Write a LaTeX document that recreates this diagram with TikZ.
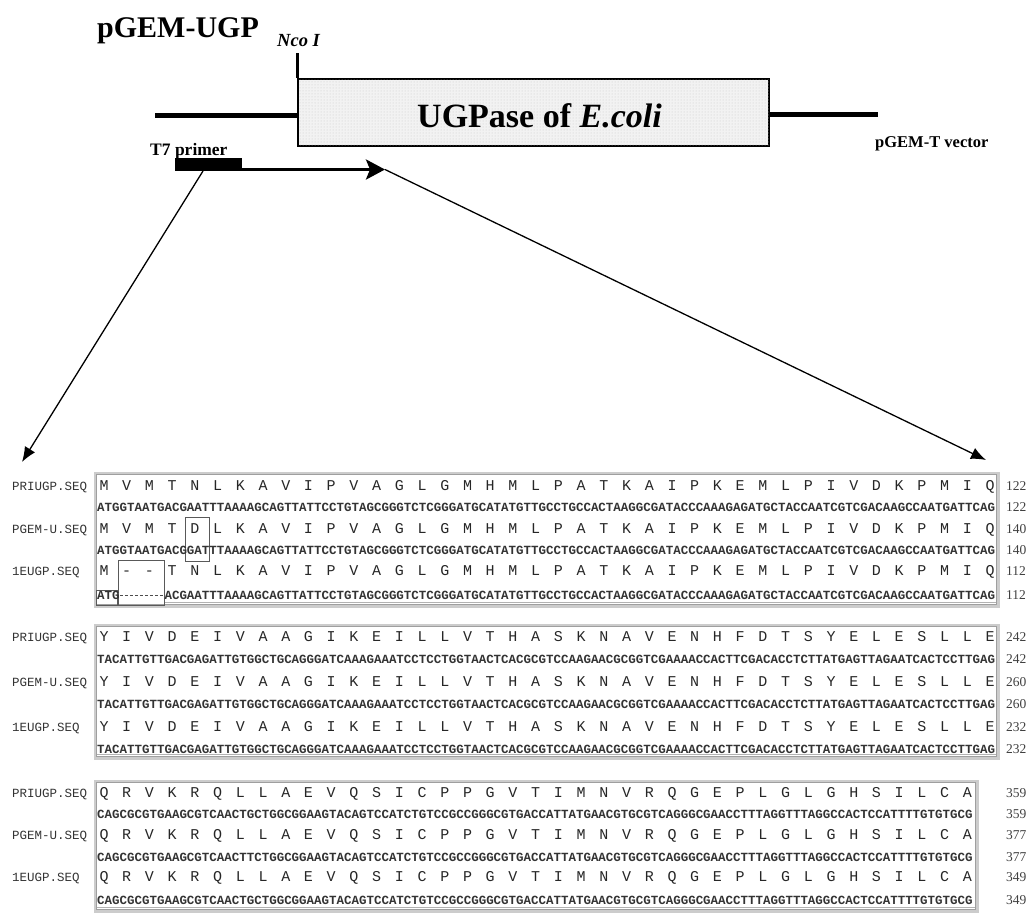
\documentclass[tikz,border=0pt]{standalone}
\usepackage{fontspec}
\setmainfont{Liberation Serif}
\newfontfamily\seqmono{Liberation Mono}
\usetikzlibrary{arrows.meta,patterns}
\newcommand\protrow[4]{%
  \foreach \c [count=\i from 0] in {#4} {\node[prot] (#1-\i) at ({#2+22.72*\i},#3) {\c};}}
\tikzset{
  prot/.style={font=\seqmono\fontsize{15}{15}\selectfont, text=black!85, inner sep=0pt, text height=9.9pt, text depth=0pt},
  dna/.style={font=\seqmono\bfseries\fontsize{12.47}{12.47}\selectfont, text=black!80, inner sep=0pt, anchor=west, text height=8.2pt, text depth=0pt},
  lab/.style={font=\seqmono\fontsize{12.5}{12.5}\selectfont, text=black!80, inner sep=0pt, anchor=west, text height=8.2pt, text depth=0pt},
  num/.style={font=\fontsize{13.5}{13.5}\selectfont, text=black!75, inner sep=0pt, anchor=west, text height=9pt, text depth=0pt},
  outerbox/.style={draw=gray!40, line width=3pt},
  innerbox/.style={draw=gray!75, line width=0.8pt},
  hibox/.style={draw=black!65, line width=1pt},
  uline/.style={draw=gray!60, line width=0.8pt},
  txt/.style={inner sep=0pt, anchor=base west},
  vec/.style={line width=5pt},
  diag/.style={line width=1.3pt, -{Latex[length=15pt,width=12pt]}},
}
\begin{document}
\begin{tikzpicture}[x=1pt,y=-1pt]
\useasboundingbox (0,0) rectangle (1032,922);
% ---------- construct ----------
\node[txt, font=\bfseries\fontsize{30}{30}\selectfont] (title) at (97,37) {pGEM-UGP};
\node[txt, font=\bfseries\itshape\fontsize{18.5}{18.5}\selectfont] (nco) at (277,46) {Nco I};
\node[draw, line width=2pt, fill=black!5, postaction={pattern=dots, pattern color=black!22},
      minimum width=471pt, minimum height=67pt, anchor=north west, inner sep=0pt] (ugp) at (297,78) {};
\node[txt, font=\bfseries\fontsize{34}{34}\selectfont] (ugptext) at (417,127) {UGPase of \textit{E.coli}};
\coordinate (ncotop) at (297,53);
\coordinate (vleft) at (155,115);
\coordinate (vright) at (878,114);
\draw[line width=3pt] (ncotop) -- (ugp.north west);
\draw[vec] (vleft) -- (ugp.west |- vleft);
\draw[vec] (ugp.east |- vright) -- (vright);
\node[txt, font=\bfseries\fontsize{16.5}{16.5}\selectfont] (vector) at (875,147) {pGEM-T vector};
\node[txt, font=\bfseries\fontsize{17.5}{17.5}\selectfont] (t7) at (150,155) {T7 primer};
\node[fill=black, minimum width=67pt, minimum height=13pt, inner sep=0pt, anchor=north west] (primer) at (175,158) {};
\coordinate (prend) at (242,169.5);
\coordinate (arrowtip) at (385,169.5);
\coordinate (prlow) at (203,171);
\coordinate (ltip) at (22,462);
\coordinate (rtip) at (986,460);
\draw[line width=3pt, -{Stealth[length=19pt,width=20pt,inset=4pt]}] (prend) -- (arrowtip);
\draw[diag] (prlow) -- (ltip);
\draw[diag] (arrowtip) -- (rtip);
% ---------- block 1 ----------
\draw[outerbox] (95,473) rectangle (998,606);
\draw[innerbox] (96.8,474.8) rectangle (996.2,604.2);
\draw[uline] (164,602) -- (996,602);
\draw[hibox] (185,517) rectangle (209,561);
\draw[hibox] (118,560) rectangle (164,605);
\draw[hibox] (96,590) rectangle (117,605);
\node[lab] (l11) at (12,486) {PRIUGP.SEQ};
\node[lab] (l12) at (12,529) {PGEM-U.SEQ};
\node[lab] (l13) at (12,571) {1EUGP.SEQ};
\protrow{p11}{104}{486}{M,V,M,T,N,L,K,A,V,I,P,V,A,G,L,G,M,H,M,L,P,A,T,K,A,I,P,K,E,M,L,P,I,V,D,K,P,M,I,Q}
\protrow{p12}{104}{529}{M,V,M,T,D,L,K,A,V,I,P,V,A,G,L,G,M,H,M,L,P,A,T,K,A,I,P,K,E,M,L,P,I,V,D,K,P,M,I,Q}
\protrow{p13}{104}{571}{M,-,-,T,N,L,K,A,V,I,P,V,A,G,L,G,M,H,M,L,P,A,T,K,A,I,P,K,E,M,L,P,I,V,D,K,P,M,I,Q}
\node[dna] (d11) at (97,507) {ATGGTAATGACGAATTTAAAAGCAGTTATTCCTGTAGCGGGTCTCGGGATGCATATGTTGCCTGCCACTAAGGCGATACCCAAAGAGATGCTACCAATCGTCGACAAGCCAATGATTCAG};
\node[dna] (d12) at (97,550) {ATGGTAATGACGGATTTAAAAGCAGTTATTCCTGTAGCGGGTCTCGGGATGCATATGTTGCCTGCCACTAAGGCGATACCCAAAGAGATGCTACCAATCGTCGACAAGCCAATGATTCAG};
\node[dna] (d13a) at (97,595) {ATG};
\node[dna] (d13b) at (164.35,595) {ACGAATTTAAAAGCAGTTATTCCTGTAGCGGGTCTCGGGATGCATATGTTGCCTGCCACTAAGGCGATACCCAAAGAGATGCTACCAATCGTCGACAAGCCAATGATTCAG};
\draw[black!70, line width=0.8pt, dash pattern=on 3pt off 2pt] (d13a.east) -- (d13b.west);
\node[num] (n11) at (1006,486) {122};
\node[num] (n12) at (1006,507) {122};
\node[num] (n13) at (1006,529) {140};
\node[num] (n14) at (1006,550) {140};
\node[num] (n15) at (1006,571) {112};
\node[num] (n16) at (1006,595) {112};
% ---------- block 2 ----------
\draw[outerbox] (95,625) rectangle (998,758);
\draw[innerbox] (96.8,626.8) rectangle (996.2,756.2);
\draw[uline] (97,754) -- (996,754);
\node[lab] (l21) at (12,637) {PRIUGP.SEQ};
\node[lab] (l22) at (12,682) {PGEM-U.SEQ};
\node[lab] (l23) at (12,727) {1EUGP.SEQ};
\protrow{p21}{104}{637}{Y,I,V,D,E,I,V,A,A,G,I,K,E,I,L,L,V,T,H,A,S,K,N,A,V,E,N,H,F,D,T,S,Y,E,L,E,S,L,L,E}
\protrow{p22}{104}{682}{Y,I,V,D,E,I,V,A,A,G,I,K,E,I,L,L,V,T,H,A,S,K,N,A,V,E,N,H,F,D,T,S,Y,E,L,E,S,L,L,E}
\protrow{p23}{104}{727}{Y,I,V,D,E,I,V,A,A,G,I,K,E,I,L,L,V,T,H,A,S,K,N,A,V,E,N,H,F,D,T,S,Y,E,L,E,S,L,L,E}
\node[dna] (d21) at (97,659) {TACATTGTTGACGAGATTGTGGCTGCAGGGATCAAAGAAATCCTCCTGGTAACTCACGCGTCCAAGAACGCGGTCGAAAACCACTTCGACACCTCTTATGAGTTAGAATCACTCCTTGAG};
\node[dna] (d22) at (97,704) {TACATTGTTGACGAGATTGTGGCTGCAGGGATCAAAGAAATCCTCCTGGTAACTCACGCGTCCAAGAACGCGGTCGAAAACCACTTCGACACCTCTTATGAGTTAGAATCACTCCTTGAG};
\node[dna] (d23) at (97,749) {TACATTGTTGACGAGATTGTGGCTGCAGGGATCAAAGAAATCCTCCTGGTAACTCACGCGTCCAAGAACGCGGTCGAAAACCACTTCGACACCTCTTATGAGTTAGAATCACTCCTTGAG};
\node[num] (n21) at (1006,637) {242};
\node[num] (n22) at (1006,659) {242};
\node[num] (n23) at (1006,682) {260};
\node[num] (n24) at (1006,704) {260};
\node[num] (n25) at (1006,727) {232};
\node[num] (n26) at (1006,749) {232};
% ---------- block 3 ----------
\draw[outerbox] (95,781) rectangle (977,911);
\draw[innerbox] (96.8,782.8) rectangle (975.2,909.2);
\draw[uline] (97,907) -- (975,907);
\node[lab] (l31) at (12,793) {PRIUGP.SEQ};
\node[lab] (l32) at (12,835) {PGEM-U.SEQ};
\node[lab] (l33) at (12,877) {1EUGP.SEQ};
\protrow{p31}{104}{793}{Q,R,V,K,R,Q,L,L,A,E,V,Q,S,I,C,P,P,G,V,T,I,M,N,V,R,Q,G,E,P,L,G,L,G,H,S,I,L,C,A}
\protrow{p32}{104}{835}{Q,R,V,K,R,Q,L,L,A,E,V,Q,S,I,C,P,P,G,V,T,I,M,N,V,R,Q,G,E,P,L,G,L,G,H,S,I,L,C,A}
\protrow{p33}{104}{877}{Q,R,V,K,R,Q,L,L,A,E,V,Q,S,I,C,P,P,G,V,T,I,M,N,V,R,Q,G,E,P,L,G,L,G,H,S,I,L,C,A}
\node[dna] (d31) at (97,814) {CAGCGCGTGAAGCGTCAACTGCTGGCGGAAGTACAGTCCATCTGTCCGCCGGGCGTGACCATTATGAACGTGCGTCAGGGCGAACCTTTAGGTTTAGGCCACTCCATTTTGTGTGCG};
\node[dna] (d32) at (97,857) {CAGCGCGTGAAGCGTCAACTTCTGGCGGAAGTACAGTCCATCTGTCCGCCGGGCGTGACCATTATGAACGTGCGTCAGGGCGAACCTTTAGGTTTAGGCCACTCCATTTTGTGTGCG};
\node[dna] (d33) at (97,900) {CAGCGCGTGAAGCGTCAACTGCTGGCGGAAGTACAGTCCATCTGTCCGCCGGGCGTGACCATTATGAACGTGCGTCAGGGCGAACCTTTAGGTTTAGGCCACTCCATTTTGTGTGCG};
\node[num] (n31) at (1006,793) {359};
\node[num] (n32) at (1006,814) {359};
\node[num] (n33) at (1006,835) {377};
\node[num] (n34) at (1006,857) {377};
\node[num] (n35) at (1006,877) {349};
\node[num] (n36) at (1006,900) {349};
\end{tikzpicture}
\end{document}
